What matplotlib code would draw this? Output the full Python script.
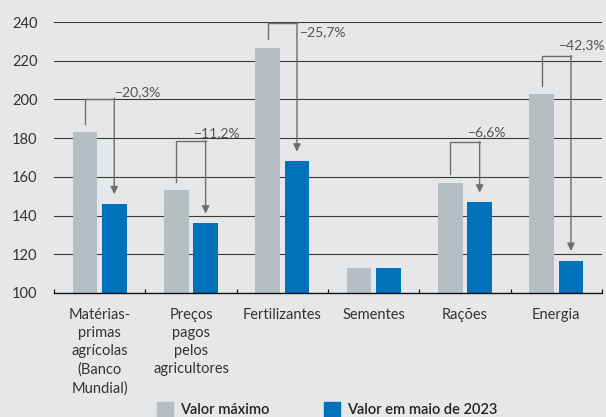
import matplotlib
matplotlib.use("Agg")
import matplotlib.pyplot as plt
from matplotlib.patches import Rectangle
import numpy as np

plt.rcParams['font.family'] = ['Lato', 'DejaVu Sans']

categories = ["Matérias-\nprimas\nagrícolas\n(Banco\nMundial)", "Preços\npagos\npelos\nagricultores",
              "Fertilizantes", "Sementes", "Rações", "Energia"]
valor_maximo = [183, 153, 226.5, 112.7, 157, 202.6]
valor_maio_2023 = [146, 136, 168, 112.7, 146.8, 116.7]
variacao = ["−20,3%", "−11,2%", "−25,7%", None, "−6,6%", "−42,3%"]
yticks = [100, 120, 140, 160, 180, 200, 220, 240]
legend_labels = ["Valor máximo", "Valor em maio de 2023"]

# layout of annotations (bracket top, label x offset, label y)
bracket_top = [200.4, 178.4, 239.6, None, 177.8, 222.4]
label_dx = [0.425, 0.285, 0.445, None, 0.241, 0.28]
label_y = [203.8, 182.8, 235.0, None, 183.3, 228.1]

BG = "#e6e7e9"
GRAY = "#b5bec3"
BLUE = "#0072bb"
ANN = "#6e6e6e"

W, H = 606, 417
fig = plt.figure(figsize=(W / 100, H / 100), dpi=100, facecolor=BG)
ax = fig.add_axes([54 / W, 1 - 293 / H, (602 - 54) / W, (293 - 22) / H])
ax.set_facecolor(BG)

x = np.arange(len(categories))
bw = 0.27
off = 0.16
ax.bar(x - off, valor_maximo, bw, bottom=0, color=GRAY, zorder=3)
ax.bar(x + off, valor_maio_2023, bw, bottom=0, color=BLUE, zorder=3)

ax.set_xlim(-0.5, len(categories) - 0.5)
ax.set_ylim(100, 240)
ax.set_yticks(yticks)
ax.tick_params(axis='y', length=0, pad=12, labelsize=10.5, labelcolor="#333333")
for yv in yticks[1:]:
    ax.axhline(yv, color="#3a3a3a", lw=0.8, zorder=1)

ax.set_xticks(x)
ax.set_xticklabels(categories, fontsize=10.5, color="#333333", linespacing=1.38)
ax.tick_params(axis='x', length=0, pad=10.5)
ax.set_xticks(np.arange(-0.5, len(categories)), minor=True)
ax.tick_params(axis='x', which='minor', direction='in', length=3, width=0.9, color="#111111")

for s in ["top", "right", "left"]:
    ax.spines[s].set_visible(False)
ax.spines["bottom"].set_color("#111111")
ax.spines["bottom"].set_linewidth(1.0)
ax.spines["bottom"].set_zorder(4)

for i in range(len(categories)):
    if variacao[i] is None:
        continue
    xl = i - off
    xr = i + off
    y0 = valor_maximo[i] + 4.5
    yt = bracket_top[i]
    y1 = valor_maio_2023[i] + 5
    ax.plot([xl, xl, xr], [y0, yt, yt], color=ANN, lw=1.0, zorder=5, clip_on=False,
            solid_joinstyle='miter')
    ax.annotate("", xy=(xr, y1), xytext=(xr, yt + 0.3),
                arrowprops=dict(arrowstyle="-|>,head_length=0.45,head_width=0.22",
                                color=ANN, lw=1.0, shrinkA=0, shrinkB=0),
                zorder=5, annotation_clip=False)
    ax.text(i + label_dx[i], label_y[i], variacao[i], ha='center', va='center',
            fontsize=10, color="#555555", zorder=6, clip_on=False)

# legend
lx = [156.5, 324]
colors = [GRAY, BLUE]
for k in range(2):
    fig.patches.append(Rectangle((lx[k] / W, 1 - 418 / H), 16 / W, 16 / H,
                                 transform=fig.transFigure, color=colors[k]))
    fig.text((lx[k] + 23.5) / W, 1 - 410 / H, legend_labels[k], ha='left', va='center',
             fontsize=10.5, color="#222222", fontweight='semibold')

fig.savefig("out.png", dpi=100, facecolor=BG)
